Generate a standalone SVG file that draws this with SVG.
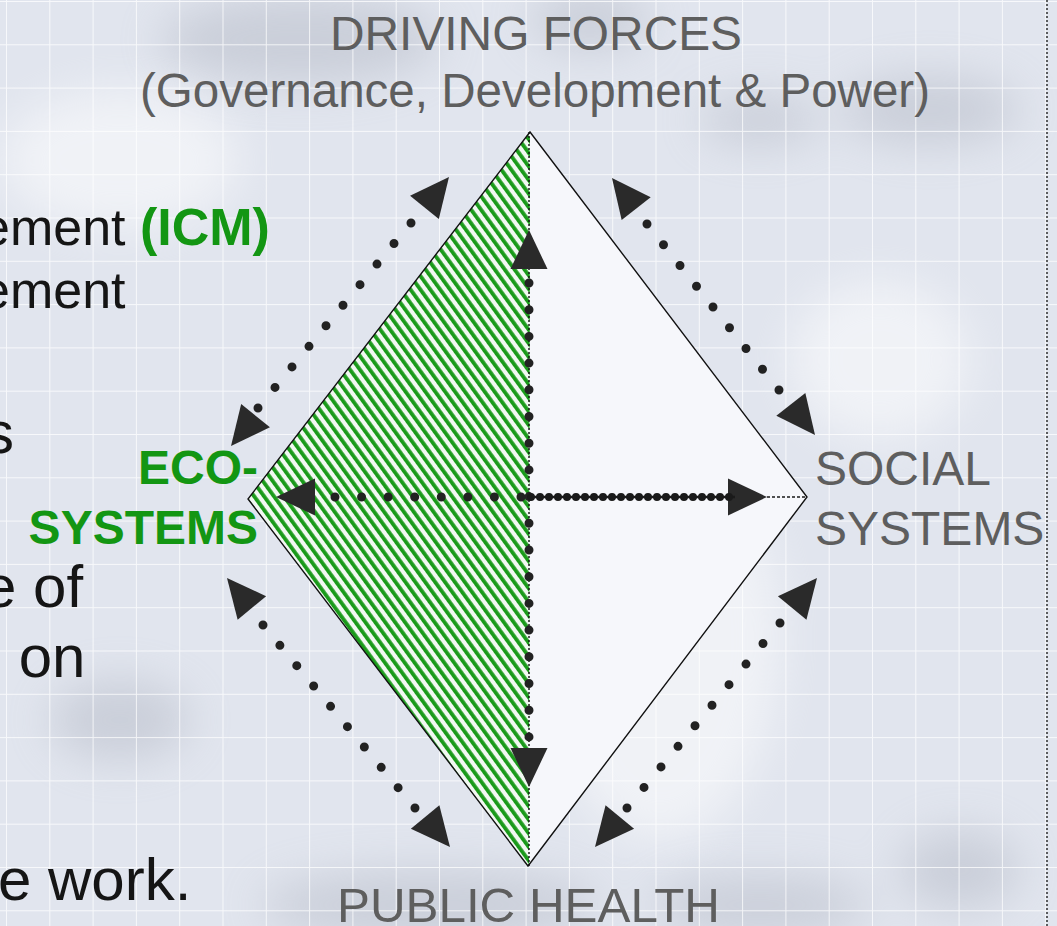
<svg xmlns="http://www.w3.org/2000/svg" width="1057" height="926" viewBox="0 0 1057 926">
<style>
  .lbl { font-family: "Liberation Sans", Arial, Helvetica, sans-serif; font-size: 48px; fill: #5e5e5e; }
  .eco { font-family: "Liberation Sans", Arial, Helvetica, sans-serif; font-size: 48px; font-weight: bold; fill: #139613; }
  .body { font-family: "Liberation Sans", Arial, Helvetica, sans-serif; fill: #151515; }
  .b52 { font-size: 52px; }
  .b60 { font-size: 60px; }
  .icm { font-weight: bold; fill: #139613; }
  .dots { fill: none; stroke: #222; stroke-width: 9; stroke-linecap: round; }
  .heads { fill: none; stroke: none; marker-start: url(#head); marker-end: url(#head); }
  .edge { fill: none; stroke: #111; stroke-width: 1.4; stroke-linejoin: miter; }
</style>
<defs>
  <pattern id="grid" x="6" y="1" width="43.3" height="43.3" patternUnits="userSpaceOnUse">
    <path d="M0,0 V43.3 M0,0 H43.3" stroke="#ffffff" stroke-width="2" opacity="0.75"/>
  </pattern>
  <pattern id="hatch" width="8" height="20" patternUnits="userSpaceOnUse" patternTransform="rotate(-36)">
    <rect width="8" height="20" fill="#f2f8f2"/>
    <rect width="3.8" height="20" fill="#1a9a1a"/>
  </pattern>
  <filter id="blur" x="-50%" y="-50%" width="200%" height="200%">
    <feGaussianBlur stdDeviation="22"/>
  </filter>
  <marker id="head" markerUnits="userSpaceOnUse" markerWidth="40" markerHeight="38" refX="39" refY="18.5" orient="auto-start-reverse" overflow="visible">
    <path d="M0,0 L39,18.5 L0,37 Z" fill="#2a2a2a"/>
  </marker>
</defs>

<g id="background">
  <rect width="1057" height="926" fill="#e1e5ee"/>
  <g filter="url(#blur)" fill="#a9aebb" opacity="0.4">
    <ellipse cx="300" cy="40" rx="140" ry="45"/>
    <ellipse cx="590" cy="20" rx="60" ry="30"/>
    <ellipse cx="760" cy="120" rx="60" ry="25"/>
    <ellipse cx="930" cy="110" rx="90" ry="35"/>
    <ellipse cx="430" cy="905" rx="170" ry="35"/>
    <ellipse cx="760" cy="905" rx="110" ry="30"/>
    <ellipse cx="960" cy="870" rx="60" ry="40"/>
    <ellipse cx="120" cy="720" rx="70" ry="40"/>
  </g>
  <g filter="url(#blur)" fill="#ffffff" opacity="0.5">
    <ellipse cx="120" cy="160" rx="120" ry="70"/>
    <ellipse cx="660" cy="640" rx="120" ry="200"/>
    <ellipse cx="880" cy="360" rx="90" ry="80"/>
  </g>
  <rect width="1057" height="926" fill="url(#grid)"/>
  <line x1="1047" y1="0" x2="1047" y2="926" stroke="#111" stroke-width="1.3" stroke-dasharray="2 2"/>
</g>

<g id="body-text" class="body">
  <text class="b52" x="-19" y="245">ement <tspan class="icm">(ICM)</tspan></text>
  <text class="b52" x="-19" y="308">ement</text>
  <text class="b60" x="-16" y="453">s</text>
  <text class="b60" x="-17" y="607">e of</text>
  <text class="b60" x="-28" y="677">s on</text>
  <text class="b60" x="-2" y="900">e work.</text>
</g>

<g id="diamond">
  <polygon points="530,132 807,497 528,866 248,499" fill="#f6f7fb"/>
  <polygon points="530,132 529,866 528,866 248,499" fill="url(#hatch)"/>
  <polygon class="edge" points="530,132 807,497 528,866 248,499"/>
  <line x1="529" y1="132" x2="529" y2="866" stroke="#111" stroke-width="1.4" stroke-dasharray="2 2"/>
</g>

<g id="connectors">
  <line class="heads" x1="449" y1="177" x2="231" y2="446"/>
  <line class="dots" x1="411" y1="223" x2="256.73" y2="409.54" stroke-dasharray="0 26.674"/>
  <line class="heads" x1="612" y1="178" x2="815" y2="435"/>
  <line class="dots" x1="647" y1="224" x2="780.24" y2="391.57" stroke-dasharray="0 26.51"/>
  <line class="heads" x1="227" y1="578" x2="450" y2="847"/>
  <line class="dots" x1="263" y1="625" x2="416.28" y2="809.54" stroke-dasharray="0 26.43"/>
  <line class="heads" x1="817" y1="578" x2="595" y2="847"/>
  <line class="dots" x1="780" y1="623" x2="625.73" y2="809.54" stroke-dasharray="0 26.674"/>
  <line class="heads" x1="529" y1="230" x2="529" y2="787"/>
  <line class="dots" x1="529" y1="283" x2="529" y2="740" stroke-dasharray="0 26.7"/>
  <line class="heads" x1="276" y1="497" x2="767" y2="497"/>
  <line class="dots" x1="335" y1="497" x2="523" y2="497" stroke-dasharray="0 26.57"/>
  <line x1="529" y1="497" x2="735" y2="497" stroke="#1a1a1a" stroke-width="2.5"/>
  <line x1="531" y1="497" x2="735" y2="497" stroke="#1a1a1a" stroke-width="8" stroke-linecap="round" stroke-dasharray="0 9"/>
  <line x1="767" y1="497" x2="806" y2="497" stroke="#1a1a1a" stroke-width="1.6" stroke-dasharray="3 2"/>
</g>

<g id="driving-forces">
  <text class="lbl" x="330" y="50" textLength="412" lengthAdjust="spacingAndGlyphs">DRIVING FORCES</text>
  <text class="lbl" x="140" y="107" textLength="790" lengthAdjust="spacingAndGlyphs">(Governance, Development &amp; Power)</text>
</g>
<g id="eco-systems">
  <text class="eco" x="258" y="484" text-anchor="end">ECO-</text>
  <text class="eco" x="258" y="544" text-anchor="end">SYSTEMS</text>
</g>
<g id="social-systems">
  <text class="lbl" x="815" y="485">SOCIAL</text>
  <text class="lbl" x="815" y="545">SYSTEMS</text>
</g>
<g id="public-health">
  <text class="lbl" x="337" y="922" textLength="383" lengthAdjust="spacingAndGlyphs">PUBLIC HEALTH</text>
</g>
</svg>
